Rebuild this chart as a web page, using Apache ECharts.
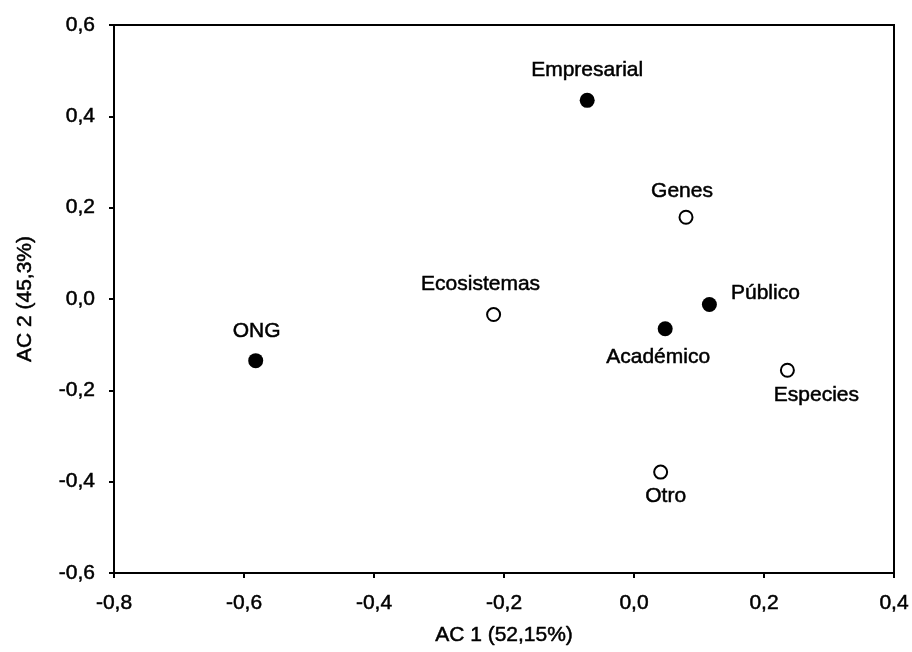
<!DOCTYPE html>
<html>
<head>
<meta charset="utf-8">
<script src="https://cdn.jsdelivr.net/npm/echarts@6/dist/echarts.min.js"></script>
<style>html,body{margin:0;padding:0;background:#fff}#c{width:912px;height:652px}</style>
</head>
<body>
<div id="c"></div>
<script>
// Actors (filled markers)
const actorNames = ['Empresarial', 'ONG', 'Público', 'Académico'];
const actorAC1 = [-0.072, -0.582, 0.116, 0.048];
const actorAC2 = [0.435, -0.135, -0.012, -0.065];
// Biodiversity levels (open markers)
const levelNames = ['Genes', 'Ecosistemas', 'Especies', 'Otro'];
const levelAC1 = [0.080, -0.216, 0.236, 0.041];
const levelAC2 = [0.179, -0.034, -0.156, -0.379];
// Axis tick labels
const xTicks = [-0.8, -0.6, -0.4, -0.2, 0.0, 0.2, 0.4];
const yTicks = [-0.6, -0.4, -0.2, 0.0, 0.2, 0.4, 0.6];
const xTitle = 'AC 1 (52,15%)';
const yTitle = 'AC 2 (45,3%)';

// label placement (style only): offset of label centre from marker centre
const labelOffset = {
  'Empresarial': [0, -30], 'ONG': [1, -29], 'Público': [56, -11], 'Académico': [-7, 29],
  'Genes': [-4, -26], 'Ecosistemas': [-13, -30], 'Especies': [29, 25], 'Otro': [5, 24]
};

const FONT = 'Liberation Sans, Arial, sans-serif';
const TXT = { color: '#000', fontSize: 21, fontFamily: FONT, textBorderColor: '#000', textBorderWidth: 0.5 };
function fmt(v) { return v.toFixed(1).replace('.', ','); }
function build(names, xs, ys) {
  return names.map((n, i) => ({
    name: n, value: [xs[i], ys[i]],
    label: { offset: labelOffset[n] }
  }));
}
const labelStyle = Object.assign({
  show: true, position: 'inside', formatter: p => p.name, opacity: 1,
  align: 'center', verticalAlign: 'middle'
}, TXT);

const chart = echarts.init(document.getElementById('c'), null, { renderer: 'canvas' });
chart.setOption({
  animation: false,
  backgroundColor: '#fff',
  grid: { left: 114, right: 18, top: 25, bottom: 79, show: true, borderColor: '#000', borderWidth: 2 },
  xAxis: {
    type: 'value', min: xTicks[0], max: xTicks[xTicks.length - 1], interval: 0.2,
    name: xTitle, nameLocation: 'middle', nameGap: 52,
    nameTextStyle: TXT,
    axisLine: { show: true, onZero: false, lineStyle: { color: '#000', width: 2 } },
    axisTick: { show: true, inside: false, length: 5, lineStyle: { color: '#000', width: 2 } },
    axisLabel: Object.assign({ margin: 20, formatter: fmt }, TXT),
    splitLine: { show: false }
  },
  yAxis: {
    type: 'value', min: yTicks[0], max: yTicks[yTicks.length - 1], interval: 0.2,
    name: yTitle, nameLocation: 'middle', nameGap: 78,
    nameTextStyle: TXT,
    axisLine: { show: true, onZero: false, lineStyle: { color: '#000', width: 2 } },
    axisTick: { show: true, inside: false, length: 5, lineStyle: { color: '#000', width: 2 } },
    axisLabel: Object.assign({ margin: 19, formatter: fmt }, TXT),
    splitLine: { show: false }
  },
  series: [
    {
      type: 'scatter', symbol: 'circle', symbolSize: 15,
      itemStyle: { color: '#000', opacity: 1 },
      label: labelStyle,
      data: build(actorNames, actorAC1, actorAC2)
    },
    {
      type: 'scatter', symbol: 'circle', symbolSize: 13,
      itemStyle: { color: '#fff', borderColor: '#000', borderWidth: 2, opacity: 1 },
      label: labelStyle,
      data: build(levelNames, levelAC1, levelAC2)
    }
  ]
});
</script>
</body>
</html>
